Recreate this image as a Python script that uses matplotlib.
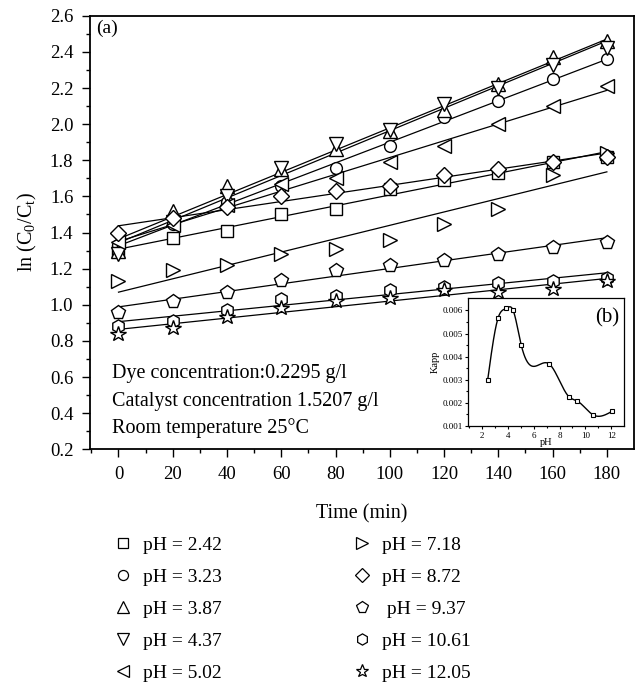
import numpy as np
import matplotlib
matplotlib.use("Agg")
import matplotlib.pyplot as plt
from matplotlib.lines import Line2D

plt.rcParams['font.family'] = ['Liberation Serif', 'DejaVu Serif']
plt.rcParams['mathtext.fontset'] = 'custom'
plt.rcParams['mathtext.rm'] = 'Liberation Serif'
plt.rcParams['mathtext.it'] = 'Liberation Serif:italic'

# time points (min)
time = [0, 20, 40, 60, 80, 100, 120, 140, 160, 180]

# ln(C0/Ct) for each pH
ph_labels = ['pH = 2.42', 'pH = 3.23', 'pH = 3.87', 'pH = 4.37', 'pH = 5.02',
             'pH = 7.18', 'pH = 8.72', ' pH = 9.37', 'pH = 10.61', 'pH = 12.05']
ph_242 = [1.30, 1.37, 1.41, 1.50, 1.53, 1.64, 1.69, 1.73, 1.79, 1.82]
ph_323 = [1.33, 1.45, 1.57, 1.66, 1.76, 1.88, 2.04, 2.13, 2.25, 2.36]
ph_387 = [1.30, 1.52, 1.66, 1.75, 1.86, 1.96, 2.08, 2.22, 2.37, 2.46]
ph_437 = [1.28, 1.46, 1.60, 1.76, 1.89, 1.97, 2.11, 2.20, 2.33, 2.42]
ph_502 = [1.35, 1.44, 1.55, 1.67, 1.70, 1.79, 1.88, 2.00, 2.10, 2.21]
ph_718 = [1.13, 1.19, 1.22, 1.28, 1.31, 1.36, 1.45, 1.53, 1.72, 1.84]
ph_872 = [1.40, 1.48, 1.54, 1.60, 1.63, 1.66, 1.72, 1.75, 1.79, 1.82]
ph_937 = [0.96, 1.02, 1.07, 1.14, 1.19, 1.22, 1.25, 1.28, 1.32, 1.35]
ph_1061 = [0.88, 0.91, 0.97, 1.03, 1.05, 1.08, 1.10, 1.12, 1.13, 1.15]
ph_1205 = [0.84, 0.87, 0.93, 0.98, 1.02, 1.04, 1.08, 1.07, 1.09, 1.13]
series = [ph_242, ph_323, ph_387, ph_437, ph_502,
          ph_718, ph_872, ph_937, ph_1061, ph_1205]
markers = ['s', 'o', '^', 'v', '<', '>', 'D', 'p', 'h', '*']
msizes = [8, 8.5, 10.5, 10.5, 10.5, 10.5, 8.5, 10, 9.5, 11.5]

# inset data
ph_vals = [2.42, 3.23, 3.87, 4.37, 5.02, 7.18, 8.72, 9.37, 10.61, 12.05]
kapp = [0.00297, 0.00567, 0.00609, 0.00604, 0.00452,
        0.00369, 0.00227, 0.00208, 0.00148, 0.00163]


def natural_spline(x, y, xs):
    x = np.asarray(x, float); y = np.asarray(y, float)
    n = len(x); h = np.diff(x)
    A = np.zeros((n, n)); b = np.zeros(n)
    A[0, 0] = A[-1, -1] = 1
    for i in range(1, n - 1):
        A[i, i - 1] = h[i - 1]; A[i, i] = 2 * (h[i - 1] + h[i]); A[i, i + 1] = h[i]
        b[i] = 6 * ((y[i + 1] - y[i]) / h[i] - (y[i] - y[i - 1]) / h[i - 1])
    M = np.linalg.solve(A, b)
    idx = np.clip(np.searchsorted(x, xs) - 1, 0, n - 2)
    x0, x1 = x[idx], x[idx + 1]; hh = x1 - x0
    return (M[idx] * (x1 - xs) ** 3 / (6 * hh) + M[idx + 1] * (xs - x0) ** 3 / (6 * hh)
            + (y[idx] / hh - M[idx] * hh / 6) * (x1 - xs)
            + (y[idx + 1] / hh - M[idx + 1] * hh / 6) * (xs - x0))


fig = plt.figure(figsize=(6.37, 6.86), dpi=100)
ax = fig.add_axes([0.1413, 0.345, 0.854, 0.632])

t = np.array(time, float)
for vals, m, ms in zip(series, markers, msizes):
    k, c = np.polyfit(t, vals, 1)
    ax.plot(t, k * t + c, color='black', lw=0.9, zorder=2)
    ax.plot(t, vals, linestyle='none', marker=m, ms=ms, mfc='white',
            mec='black', mew=1.0, zorder=3)

ax.set_xlim(-10.5, 190)
ax.set_ylim(0.2, 2.6)
ax.set_xticks(range(0, 181, 20))
ax.set_xticks(range(-10, 190, 10), minor=True)
ax.set_yticks(np.arange(0.2, 2.61, 0.2))
ax.set_yticks(np.arange(0.3, 2.6, 0.2), minor=True)
ax.set_yticklabels(['%.1f' % v for v in np.arange(0.2, 2.61, 0.2)])
ax.tick_params(which='major', direction='out', length=6, width=1.0, labelsize=13.5, pad=6)
ax.tick_params(which='minor', direction='out', length=3, width=1.0)
for s in ax.spines.values():
    s.set_linewidth(1.3)
ax.set_xlabel('Time (min)', fontsize=14.5, labelpad=15)
ax.set_ylabel(r'ln (C$_\mathrm{0}$/C$_\mathrm{t}$)', fontsize=14.5, labelpad=8)

ax.text(0.012, 0.992, '(a)', transform=ax.transAxes, fontsize=14, va='top')
ax.text(0.04, 0.175, 'Dye concentration:0.2295 g/l', transform=ax.transAxes,
        fontsize=14.5, va='center')
ax.text(0.04, 0.110, 'Catalyst concentration 1.5207 g/l', transform=ax.transAxes,
        fontsize=14.5, va='center')
ax.text(0.04, 0.048, 'Room temperature 25°C', transform=ax.transAxes,
        fontsize=14.5, va='center')

# inset (b)
axi = fig.add_axes([0.7347, 0.379, 0.245, 0.187])
xs = np.linspace(ph_vals[0], ph_vals[-1], 400)
axi.plot(xs, natural_spline(ph_vals, kapp, xs), color='black', lw=1.0)
axi.plot(ph_vals, kapp, linestyle='none', marker='s', ms=3.5, mfc='white',
         mec='black', mew=0.8)
axi.set_xlim(0.9, 13)
axi.set_ylim(0.001, 0.00655)
axi.set_xticks(range(2, 13, 2))
axi.set_xticks(range(1, 13, 2), minor=True)
axi.set_yticks([0.001, 0.002, 0.003, 0.004, 0.005, 0.006])
axi.set_yticklabels(['0.001', '0.002', '0.003', '0.004', '0.005', '0.006'])
axi.set_yticks(np.arange(0.0015, 0.0065, 0.001), minor=True)
axi.tick_params(which='major', direction='out', length=2.5, width=0.8, labelsize=6.5, pad=1.5)
axi.tick_params(which='minor', direction='out', length=1.5, width=0.8)
for s in axi.spines.values():
    s.set_linewidth(0.9)
axi.set_xlabel('pH', fontsize=7.5, labelpad=-1)
axi.set_ylabel('Kapp', fontsize=7.5, labelpad=2)
axi.text(0.97, 0.92, '(b)', transform=axi.transAxes, fontsize=15, ha='right', va='top')

# legend below the plot
handles = [Line2D([], [], linestyle='none', marker=m, ms=ms * 0.85, mfc='white',
                  mec='black', mew=0.9) for m, ms in zip(markers, msizes)]
fig.legend(handles, ph_labels, ncol=2, frameon=False, fontsize=14,
           loc='upper left', bbox_to_anchor=(0.165, 0.229),
           handlelength=1.0, handletextpad=0.55, labelspacing=0.73,
           columnspacing=6.7, borderaxespad=0)

fig.savefig('out.png', dpi=100)
